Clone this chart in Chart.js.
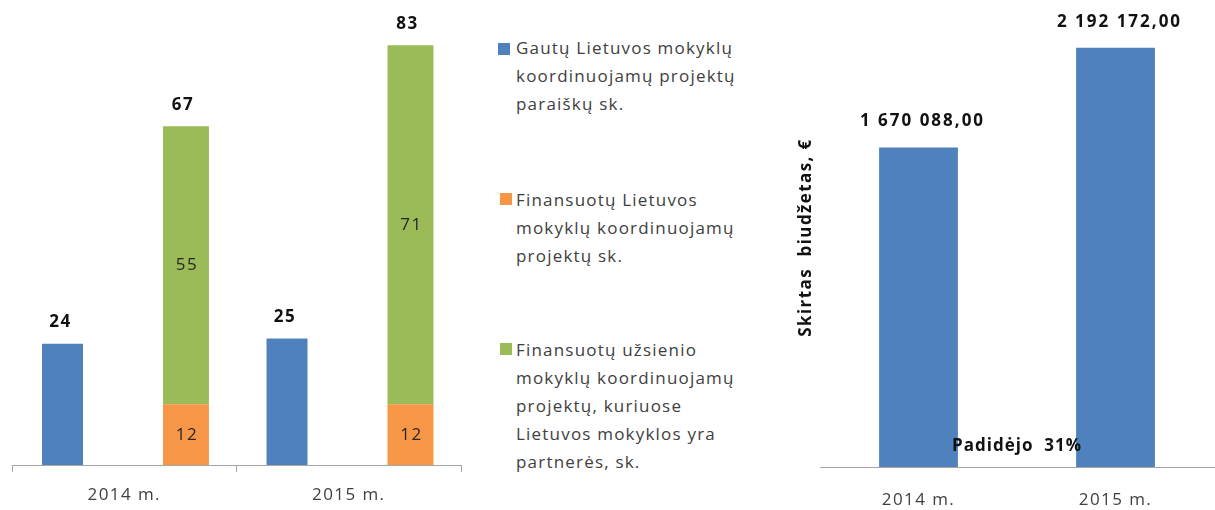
<!DOCTYPE html>
<html>
<head>
<meta charset="utf-8">
<script src="https://cdn.jsdelivr.net/npm/chart.js@4.4.1/dist/chart.umd.min.js"></script>
<style>
    html, body { margin: 0; padding: 0; background: #fff; }
    body { width: 1215px; height: 510px; position: relative; overflow: hidden; font-family: 'Open Sans', sans-serif; }
    #projectsChart { position: absolute; left: 0; top: 0; }
    #budgetChart { position: absolute; left: 780px; top: 0; }
    .legend-item { position: absolute; left: 498px; }
    .legend-item .box { position: absolute; left: 0; width: 12px; height: 12px; }
    .legend-item .text { position: absolute; left: 18px; top: 0; white-space: nowrap; font-size: 17px; line-height: 28px; letter-spacing: 1.2px; color: #404040; }
    #legend0 { top: 34px; } #legend0 .box { top: 9px; }
    #legend1 { top: 186px; } #legend1 .box { top: 7px; left: 2px; }
    #legend2 { top: 336px; } #legend2 .box { top: 7px; left: 2px; }
</style>
</head>
<body>
<canvas id="projectsChart" width="475" height="510"></canvas>
<div id="legend"></div>
<canvas id="budgetChart" width="435" height="510"></canvas>
<script>
const years = ['2014 m.', '2015 m.'];
const applications = [24, 25];      // Gautų paraiškų sk.
const fundedLt = [12, 12];          // Finansuotų Lietuvos mokyklų projektų sk.
const fundedForeign = [55, 71];     // Finansuotų užsienio mokyklų projektų sk.
const budget = [1670088, 2192172];  // Skirtas biudžetas, €
const budgetChange = 'Padidėjo  31%';
const budgetAxisTitle = 'Skirtas  biudžetas, €';
const seriesNames = [
    ['Gautų Lietuvos mokyklų', 'koordinuojamų projektų', 'paraiškų sk.'],
    ['Finansuotų Lietuvos', 'mokyklų koordinuojamų', 'projektų sk.'],
    ['Finansuotų užsienio', 'mokyklų koordinuojamų', 'projektų, kuriuose', 'Lietuvos mokyklos yra', 'partnerės, sk.']
];

const blue = '#4F81BD';
const orange = '#F79646';
const green = '#9BBB59';
const axisGray = '#a6a6a6';
const FONT = "'Open Sans', sans-serif";

Chart.defaults.font.family = FONT;

function formatEur(v) {
    const whole = Math.floor(v).toString().replace(/\B(?=(\d{3})+(?!\d))/g, ' ');
    const cents = Math.round((v % 1) * 100).toString().padStart(2, '0');
    return whole + ',' + cents;
}

// canvas letter spacing gets reset on resize, so set it before layout and draw
const spacing = {
    id: 'spacing',
    beforeLayout(chart) { chart.ctx.letterSpacing = '1.4px'; },
    beforeDraw(chart) { chart.ctx.letterSpacing = '1.4px'; }
};

const projectLabels = {
    id: 'projectLabels',
    afterDatasetsDraw(chart) {
        const ctx = chart.ctx;
        ctx.save();
        ctx.textAlign = 'center';
        ctx.textBaseline = 'middle';
        ctx.letterSpacing = '1.5px';

        // values inside the stacked segments
        ctx.font = '17px ' + FONT;
        ctx.fillStyle = '#262626';
        [1, 2].forEach(di => {
            chart.getDatasetMeta(di).data.forEach((bar, i) => {
                ctx.fillText(chart.data.datasets[di].data[i], bar.x + 1, (bar.y + bar.base) / 2);
            });
        });

        // values above the bars
        ctx.font = 'bold 17px ' + FONT;
        ctx.fillStyle = '#111';
        chart.getDatasetMeta(0).data.forEach((bar, i) => {
            ctx.fillText(applications[i], bar.x - 2, bar.y - 21);
        });
        chart.getDatasetMeta(2).data.forEach((bar, i) => {
            ctx.fillText(fundedLt[i] + fundedForeign[i], bar.x - 3, bar.y - 21);
        });
        ctx.restore();
    }
};

const budgetLabels = {
    id: 'budgetLabels',
    afterDatasetsDraw(chart) {
        const ctx = chart.ctx;
        const area = chart.chartArea;
        ctx.save();
        ctx.textAlign = 'center';
        ctx.textBaseline = 'middle';
        ctx.fillStyle = '#111';
        ctx.font = 'bold 17px ' + FONT;
        ctx.letterSpacing = '2px';
        chart.getDatasetMeta(0).data.forEach((bar, i) => {
            ctx.fillText(formatEur(budget[i]), bar.x + 4, bar.y - 26);
        });
        ctx.letterSpacing = '1px';
        ctx.fillText(budgetChange, (area.left + area.right) / 2, area.bottom - 21);
        ctx.restore();
    }
};

new Chart(document.getElementById('projectsChart'), {
    type: 'bar',
    data: {
        labels: years,
        datasets: [
            { label: seriesNames[0].join(' '), data: applications, backgroundColor: blue, stack: 'received', barPercentage: 0.332 },
            { label: seriesNames[1].join(' '), data: fundedLt, backgroundColor: orange, stack: 'funded', barPercentage: 0.372 },
            { label: seriesNames[2].join(' '), data: fundedForeign, backgroundColor: green, stack: 'funded', barPercentage: 0.372 }
        ]
    },
    options: {
        responsive: false,
        animation: false,
        devicePixelRatio: 1,
        datasets: { bar: { categoryPercentage: 1.1 } },
        layout: { padding: { left: 12, right: 14, top: 20, bottom: 0 } },
        plugins: { legend: { display: false }, tooltip: { enabled: false } },
        scales: {
            x: {
                offset: true,
                grid: { display: true, offset: true, drawOnChartArea: false, drawTicks: true, tickLength: 7, color: axisGray },
                border: { display: true, color: axisGray },
                ticks: { color: '#404040', font: { size: 17 }, padding: 13 },
                afterFit(axis) { axis.height = 45; }
            },
            y: {
                display: false,
                stacked: true,
                min: 0,
                max: 88
            }
        }
    },
    plugins: [spacing, projectLabels]
});

// legend built as html so the long names can wrap like the original
const legendColors = [blue, orange, green];
const legendEl = document.getElementById('legend');
seriesNames.forEach((lines, i) => {
    const item = document.createElement('div');
    item.className = 'legend-item';
    item.id = 'legend' + i;
    const box = document.createElement('div');
    box.className = 'box';
    box.style.background = legendColors[i];
    const text = document.createElement('div');
    text.className = 'text';
    lines.forEach((line, j) => {
        if (j > 0) text.appendChild(document.createElement('br'));
        text.appendChild(document.createTextNode(line));
    });
    item.appendChild(box);
    item.appendChild(text);
    legendEl.appendChild(item);
});

new Chart(document.getElementById('budgetChart'), {
    type: 'bar',
    data: {
        labels: years,
        datasets: [
            { label: budgetAxisTitle, data: budget, backgroundColor: blue, categoryPercentage: 0.8, barPercentage: 0.5 }
        ]
    },
    options: {
        responsive: false,
        animation: false,
        devicePixelRatio: 1,
        layout: { padding: { top: 8, right: 1, left: 0, bottom: 0 } },
        plugins: { legend: { display: false }, tooltip: { enabled: false } },
        scales: {
            x: {
                grid: { display: false, drawTicks: false },
                border: { display: true, color: axisGray },
                ticks: { color: '#404040', font: { size: 17 }, padding: 23 },
                afterFit(axis) { axis.height = 43; }
            },
            y: {
                min: 0,
                max: 2400000,
                ticks: { display: false },
                grid: { display: false, drawTicks: false },
                border: { display: false },
                title: { display: true, text: budgetAxisTitle, color: '#111', font: { size: 17, weight: 'bold' }, padding: { top: 16, bottom: 0 } },
                afterFit(axis) { axis.width = 40; }
            }
        }
    },
    plugins: [spacing, budgetLabels]
});
</script>
</body>
</html>
